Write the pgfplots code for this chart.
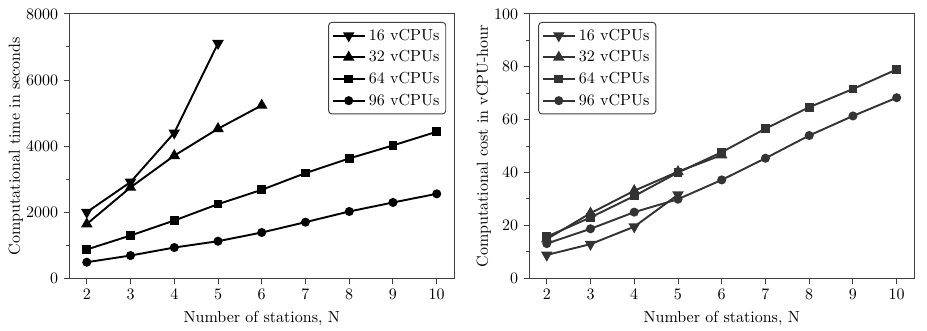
\documentclass[border=0pt]{standalone}
\usepackage{pgfplots}
\pgfplotsset{compat=1.18}
\begin{document}
\begin{tikzpicture}
\pgfplotsset{
 myax/.style={
  scale only axis, width=240.6pt, height=165.2pt,
  xmin=1.6, xmax=10.4, xtick={2,3,...,10},
  tick align=outside, tick pos=left,
  major tick length=3.5pt, minor tick length=2pt,
  axis line style={black!75, line width=0.6pt},
  every tick/.style={black!75, line width=0.6pt},
  xlabel={Number of stations, N},
  ylabel style={yshift=-5pt},
  scaled y ticks=false,
  yticklabel style={/pgf/number format/1000 sep={}},
  minor y tick num=1,
  legend cell align=left,
  legend image code/.code={\draw[mark repeat=2,mark phase=2] plot coordinates {(0cm,0cm) (0.35cm,0cm) (0.7cm,0cm)};},
  every axis plot/.append style={line width=1.2pt},
 },
 s16/.style={mark=triangle*, mark size=3pt, mark options={rotate=180}},
 s32/.style={mark=triangle*, mark size=3pt},
 s64/.style={mark=square*, mark size=2.1pt},
 s96/.style={mark=*, mark size=2.2pt},
}
\path[use as bounding box] (-43.3pt,-32.9pt) rectangle (536.1pt,173.9pt);
\begin{axis}[myax, at={(0pt,0pt)}, anchor=south west,
  ymin=0, ymax=8000, ytick={0,2000,4000,6000,8000},
  ylabel={Computational time in seconds},
  legend style={at={(axis description cs:1,1)}, anchor=north east, xshift=-5pt, yshift=-5pt,
    rounded corners=2pt, draw=black!75, line width=0.6pt, row sep=1pt, inner sep=2pt}]
\addplot[black, s16] coordinates {(2,2000)(3,2910)(4,4400)(5,7110)};
\addlegendentry{16 vCPUs}
\addplot[black, s32] coordinates {(2,1640)(3,2750)(4,3710)(5,4525)(6,5232)};
\addlegendentry{32 vCPUs}
\addplot[black, s64] coordinates {(2,870)(3,1293)(4,1747)(5,2242)(6,2677)(7,3182)(8,3626)(9,4020)(10,4434)};
\addlegendentry{64 vCPUs}
\addplot[black, s96] coordinates {(2,485)(3,687)(4,929)(5,1121)(6,1384)(7,1697)(8,2020)(9,2293)(10,2555)};
\addlegendentry{96 vCPUs}
\end{axis}
\begin{axis}[myax, at={(287.5pt,0pt)}, anchor=south west,
  ymin=0, ymax=100, ytick={0,20,40,60,80,100},
  ylabel={Computational cost in vCPU-hour},
  legend style={at={(axis description cs:0,1)}, anchor=north west, xshift=5.6pt, yshift=-5pt,
    rounded corners=2pt, draw=black!75, line width=0.6pt, row sep=1pt, inner sep=2pt}]
\addplot[black!80, s16] coordinates {(2,8.8)(3,12.9)(4,19.5)(5,31.6)};
\addlegendentry{16 vCPUs}
\addplot[black!80, s32] coordinates {(2,14.8)(3,24.6)(4,33.1)(5,40.3)(6,46.6)};
\addlegendentry{32 vCPUs}
\addplot[black!80, s64] coordinates {(2,15.7)(3,23.0)(4,31.1)(5,40.0)(6,47.7)(7,56.6)(8,64.7)(9,71.6)(10,79.0)};
\addlegendentry{64 vCPUs}
\addplot[black!80, s96] coordinates {(2,13.1)(3,18.7)(4,25.0)(5,29.9)(6,37.2)(7,45.4)(8,54.0)(9,61.4)(10,68.3)};
\addlegendentry{96 vCPUs}
\end{axis}
\end{tikzpicture}
\end{document}
